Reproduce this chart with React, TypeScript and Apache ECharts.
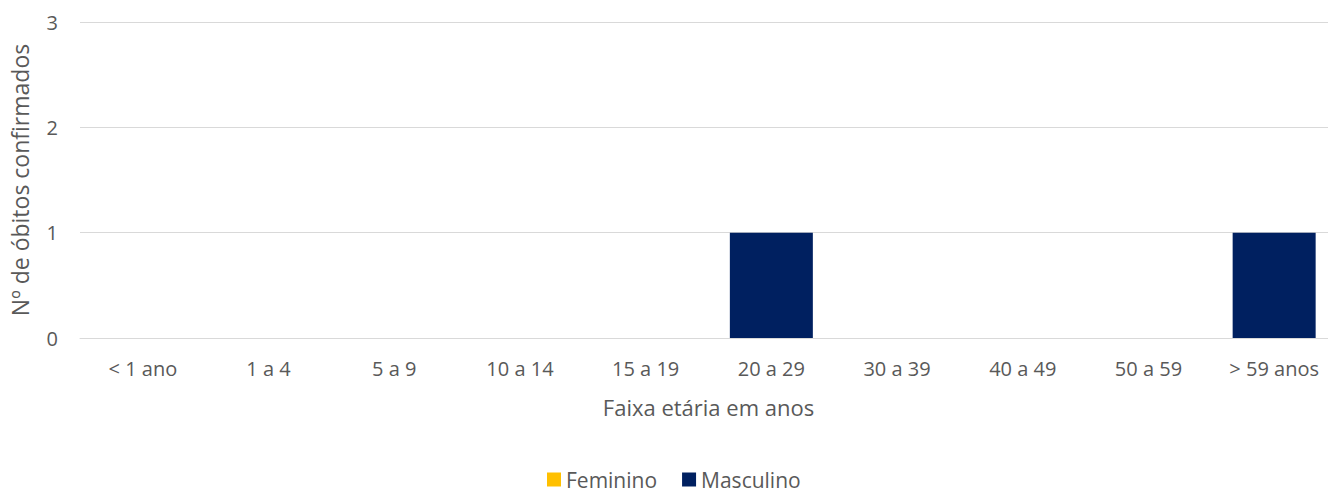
import React, { useEffect, useRef } from "react";
import * as echarts from "echarts";

const categories = ["< 1 ano", "1 a 4", "5 a 9", "10 a 14", "15 a 19", "20 a 29", "30 a 39", "40 a 49", "50 a 59", "> 59 anos"];
const feminino = [0, 0, 0, 0, 0, 0, 0, 0, 0, 0];
const masculino = [0, 0, 0, 0, 0, 1, 0, 0, 0, 1];

const FONT = "'Open Sans', 'Noto Sans', sans-serif";
const TXT = "#595959";

export default function App() {
  const ref = useRef<HTMLDivElement>(null);
  useEffect(() => {
    if (!ref.current) return;
    const chart = echarts.init(ref.current, undefined, { renderer: "svg" });
    chart.setOption({
      animation: false,
      textStyle: { fontFamily: FONT },
      grid: { left: 80, top: 22, height: 316, width: 1257, containLabel: false },
      legend: {
        top: 469,
        left: 547,
        padding: 0,
        icon: "rect",
        itemWidth: 14,
        itemHeight: 14,
        itemGap: 25,
        textStyle: { fontSize: 21, lineHeight: 18, color: TXT, fontFamily: FONT },
        data: ["Feminino", "Masculino"],
      },
      xAxis: {
        type: "category",
        data: categories,
        name: "Faixa etária em anos",
        nameLocation: "middle",
        nameGap: 58,
        nameTextStyle: { fontSize: 22, color: TXT, fontFamily: FONT },
        axisLine: { show: true, lineStyle: { color: "#d9d9d9", width: 1 } },
        axisTick: { show: false },
        axisLabel: { fontSize: 20, color: TXT, margin: 20, fontFamily: FONT, interval: 0 },
      },
      yAxis: {
        type: "value",
        min: 0,
        max: 3,
        interval: 1,
        name: "Nº de óbitos confirmados",
        nameLocation: "middle",
        nameGap: 49,
        nameTextStyle: { fontSize: 23, color: TXT, fontFamily: FONT },
        axisLine: { show: false },
        axisTick: { show: false },
        axisLabel: { fontSize: 20, color: TXT, margin: 22, fontFamily: FONT },
        splitLine: { lineStyle: { color: "#d9d9d9", width: 1 } },
      },
      series: [
        {
          name: "Feminino",
          type: "bar",
          stack: "total",
          data: feminino,
          barWidth: 83,
          itemStyle: { color: "#FFC000" },
        },
        {
          name: "Masculino",
          type: "bar",
          stack: "total",
          data: masculino,
          barWidth: 83,
          itemStyle: { color: "#002060" },
        },
      ],
    });
    return () => chart.dispose();
  }, []);
  return (
    <div style={{ position: "absolute", left: 0, top: 0, width: 1328, height: 488, overflow: "hidden" }}>
      <div ref={ref} style={{ width: 1340, height: 488 }} />
    </div>
  );
}
